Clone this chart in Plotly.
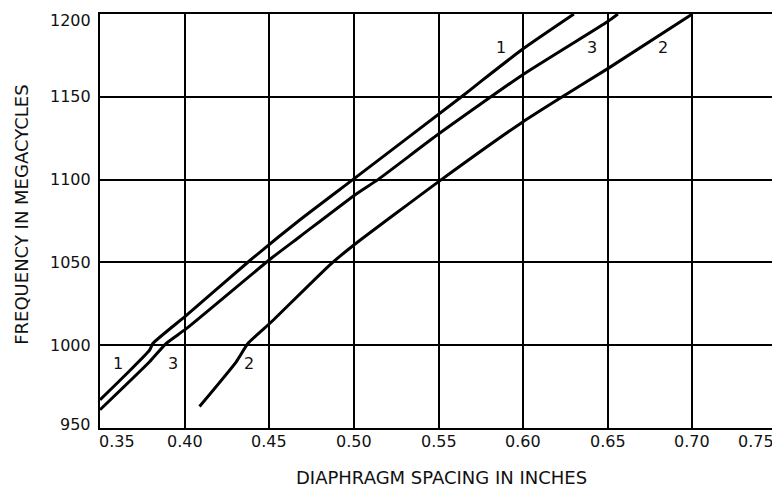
import plotly.graph_objects as go

# ---- data ----
curve1_x = [0.35, 0.365, 0.3793, 0.3812, 0.401, 0.4384, 0.468, 0.4994, 0.5636, 0.5747, 0.60, 0.630]
curve1_y = [967, 982, 997, 1001, 1018, 1051, 1075.6, 1100, 1150, 1159, 1179, 1200]

curve3_x = [0.35, 0.3793, 0.389, 0.401, 0.4512, 0.468, 0.50, 0.5142, 0.55, 0.60, 0.65, 0.656]
curve3_y = [961, 990, 1001, 1010, 1052.5, 1065.5, 1090.3, 1100, 1127.5, 1163.5, 1195.5, 1200]

curve2_x = [0.4088, 0.4305, 0.4374, 0.4512, 0.4857, 0.50, 0.5517, 0.60, 0.6215, 0.65, 0.70]
curve2_y = [963, 990, 1001, 1014, 1048.4, 1060.5, 1100, 1135, 1149, 1167, 1200]

curve_names = ["1", "3", "2"]
label_low_x = [0.3604, 0.3929, 0.4383]
label_low_y = [989, 989, 989]
label_high_x = [0.587, 0.6405, 0.6825]
label_high_y = [1179.5, 1179.5, 1179.5]

x_tick_vals = [0.35, 0.40, 0.45, 0.50, 0.55, 0.60, 0.65, 0.70, 0.75]
x_tick_text = ["0.35", "0.40", "0.45", "0.50", "0.55", "0.60", "0.65", "0.70", "0.75"]
y_tick_vals = [950, 1000, 1050, 1100, 1150, 1200]
y_tick_text = ["950", "1000", "1050", "1100", "1150", "1200"]

x_title = "DIAPHRAGM SPACING IN INCHES"
y_title = "FREQUENCY IN MEGACYCLES"

FONT = "DejaVu Sans"
INK = "#111111"

fig = go.Figure()
for xs, ys in [(curve1_x, curve1_y), (curve3_x, curve3_y), (curve2_x, curve2_y)]:
    fig.add_trace(go.Scatter(
        x=xs, y=ys, mode="lines",
        line=dict(color="#000000", width=3, shape="spline", smoothing=0.5),
        showlegend=False, hoverinfo="skip",
    ))

annotations = []
for name, lx, ly in zip(curve_names, label_low_x, label_low_y):
    annotations.append(dict(x=lx, y=ly, xref="x", yref="y", text=name, showarrow=False,
                            font=dict(family=FONT, size=16, color=INK)))
for name, lx, ly in zip(curve_names, label_high_x, label_high_y):
    annotations.append(dict(x=lx, y=ly, xref="x", yref="y", text=name, showarrow=False,
                            font=dict(family=FONT, size=16, color=INK)))

# x tick labels as annotations (edge labels aligned inward, as in the reference)
for i, (v, t) in enumerate(zip(x_tick_vals, x_tick_text)):
    if i == 0:
        anchor, xs = "left", -3
    elif i == len(x_tick_vals) - 1:
        anchor, xs = "right", -1
    else:
        anchor, xs = "center", 0
    annotations.append(dict(x=v, y=0, xref="x", yref="paper", yshift=-13, xshift=xs, text=t,
                            xanchor=anchor, yanchor="middle", showarrow=False,
                            font=dict(family=FONT, size=16, color=INK)))

# y tick labels as annotations (edge labels nudged inward, as in the reference)
for i, (v, t) in enumerate(zip(y_tick_vals, y_tick_text)):
    if i == 0:
        ys = 4
    elif i == len(y_tick_vals) - 1:
        ys = -6
    else:
        ys = 0
    annotations.append(dict(x=0, y=v, xref="paper", yref="y", xshift=-7, yshift=ys, text=t,
                            xanchor="right", yanchor="middle", showarrow=False,
                            font=dict(family=FONT, size=16, color=INK)))

annotations.append(dict(x=0.5, y=0, xref="paper", yref="paper", yshift=-49, xshift=3, text=x_title,
                        xanchor="center", yanchor="middle", showarrow=False,
                        font=dict(family=FONT, size=18, color=INK)))
annotations.append(dict(x=0, y=0.515, xref="paper", yref="paper", xshift=-78, text=y_title,
                        textangle=-90, xanchor="center", yanchor="middle", showarrow=False,
                        font=dict(family=FONT, size=18, color=INK)))

# the page body has an 8px margin, so the figure is sized to fit the 780x488 window
fig.update_layout(
    width=772, height=480,
    margin=dict(l=92, r=3, t=6, b=60, autoexpand=False),
    paper_bgcolor="white", plot_bgcolor="white",
    annotations=annotations,
    font=dict(family=FONT, size=16, color=INK),
)
fig.update_xaxes(
    range=[0.35, 0.75], tickvals=x_tick_vals, showticklabels=False,
    showgrid=True, gridcolor="#000000", gridwidth=1.5,
    showline=True, linecolor="#000000", linewidth=2, mirror=True,
    zeroline=False, ticks="", automargin=False,
)
fig.update_yaxes(
    range=[950, 1200], tickvals=y_tick_vals, showticklabels=False,
    showgrid=True, gridcolor="#000000", gridwidth=1.5,
    showline=True, linecolor="#000000", linewidth=2, mirror=True,
    zeroline=False, ticks="", automargin=False,
)

fig.write_html("out.html")
